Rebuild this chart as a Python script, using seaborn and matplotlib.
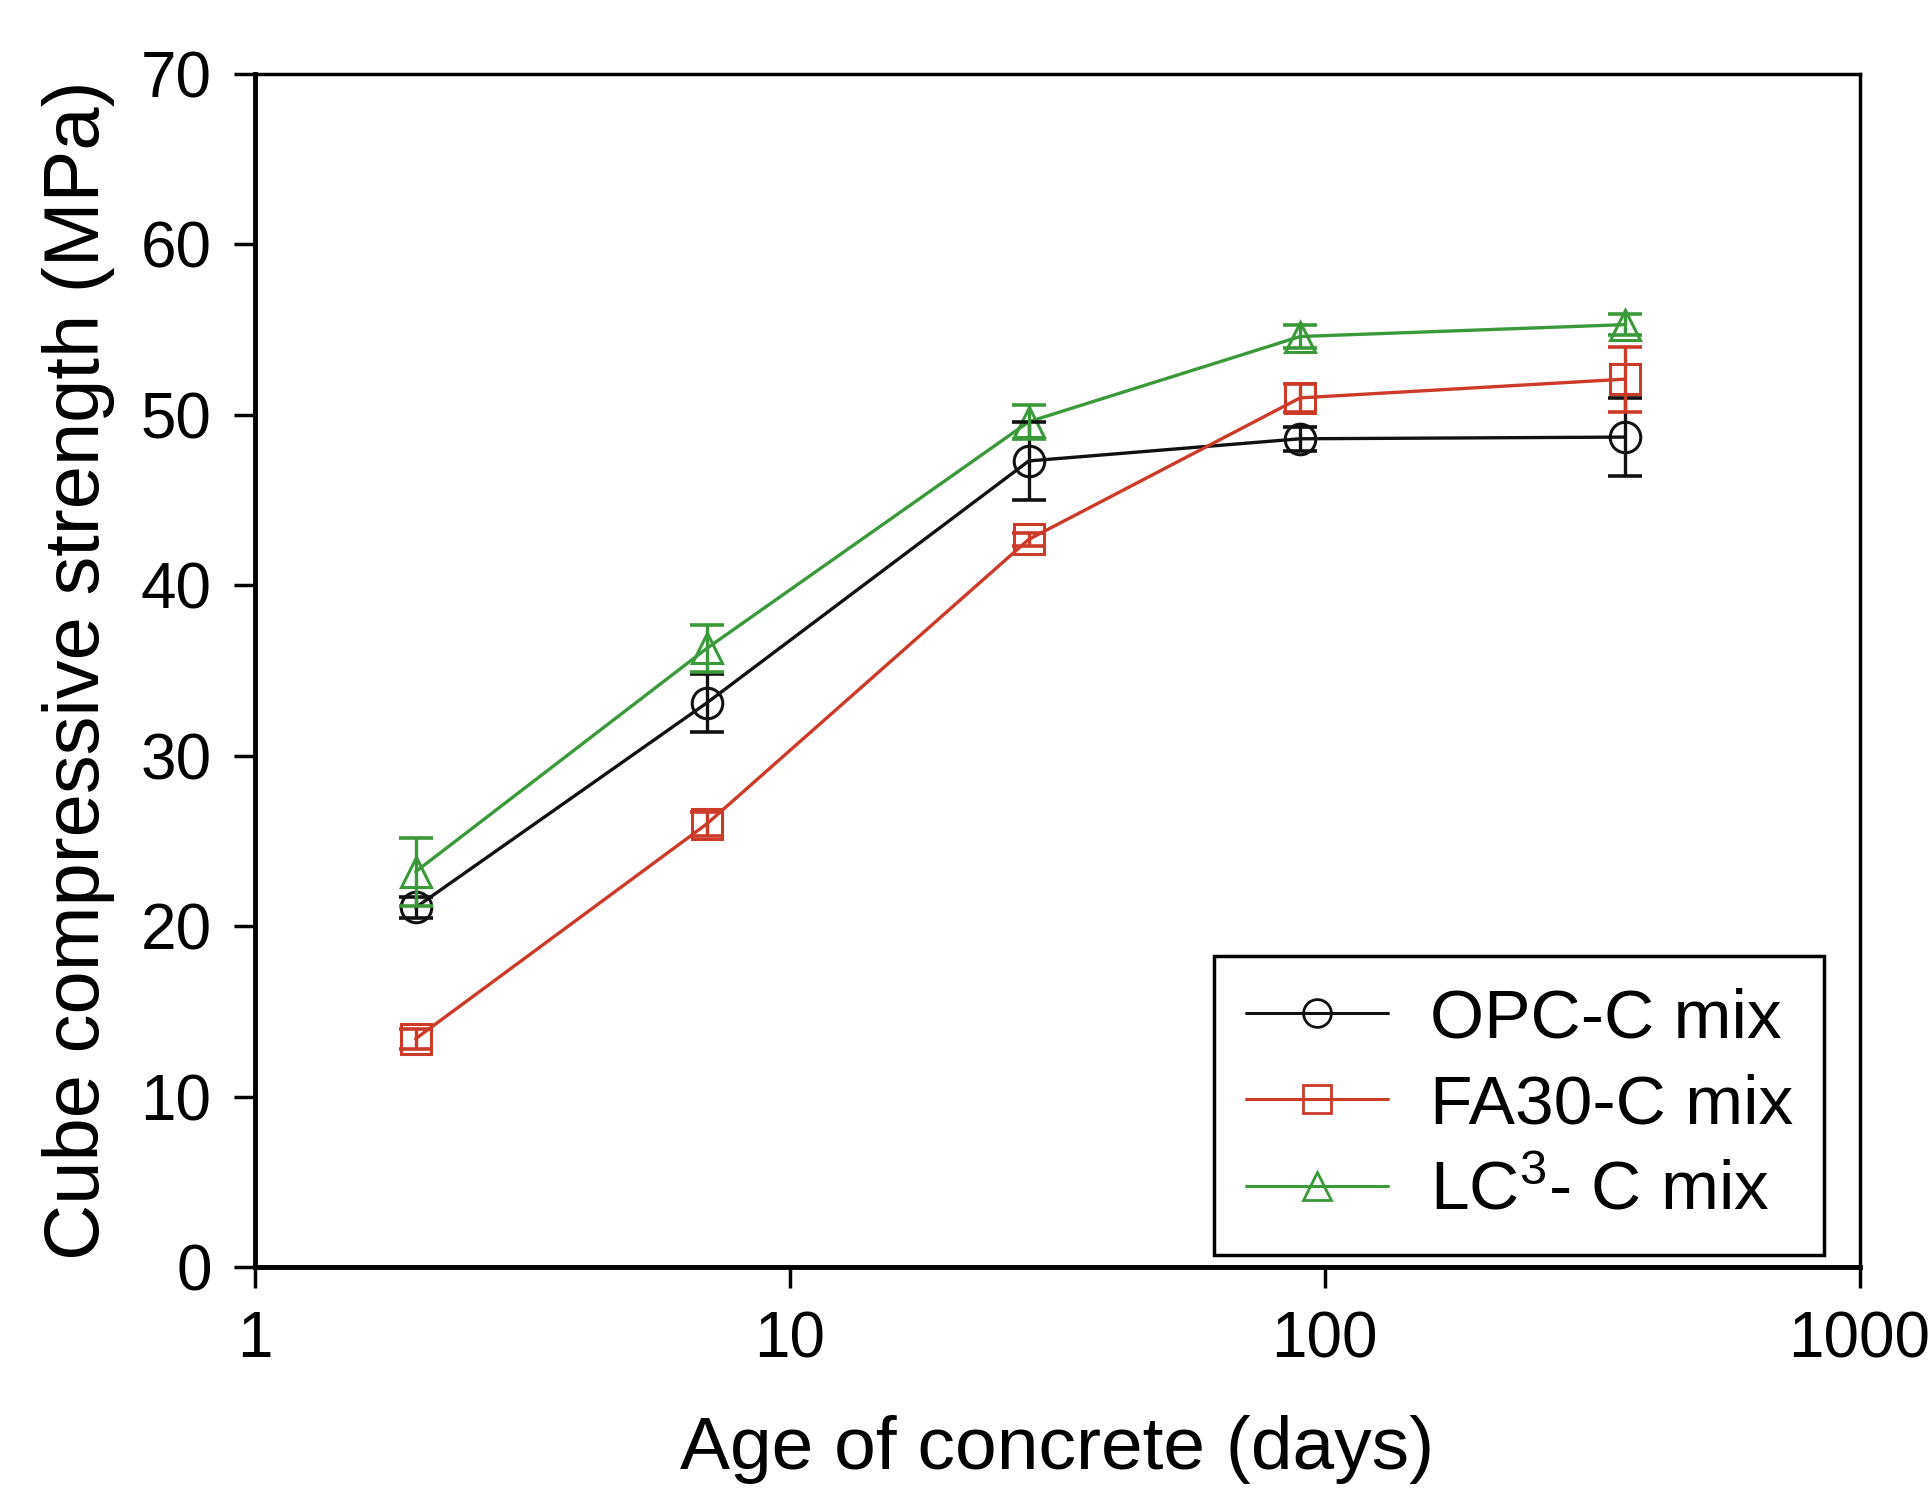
import numpy as np
import pandas as pd
import seaborn as sns
import matplotlib.pyplot as plt
from matplotlib.lines import Line2D

# age of concrete (days)
ages = [2, 7, 28, 90, 365]

# mean cube compressive strength (MPa)
opc = [21.1, 33.1, 47.3, 48.6, 48.7]
fa30 = [13.4, 26.0, 42.7, 51.0, 52.1]
lc3 = [23.2, 36.3, 49.6, 54.6, 55.3]

# error bar half-lengths (MPa)
opc_err = [0.6, 1.7, 2.3, 0.7, 2.3]
fa30_err = [0.6, 0.7, 0.4, 0.8, 1.9]
lc3_err = [2.0, 1.4, 1.0, 0.7, 0.6]

labels = ["OPC-C mix", "FA30-C mix", "LC$^3$- C mix"]
colors = ["#111111", "#cc3a28", "#3a9a3a"]
markers = ["o", "s", "^"]

sns.set_style("ticks")
plt.rcParams["font.family"] = ["Liberation Sans", "DejaVu Sans"]
plt.rcParams["mathtext.default"] = "regular"
plt.rcParams["text.color"] = "black"
plt.rcParams["axes.labelcolor"] = "black"
plt.rcParams["xtick.color"] = "black"
plt.rcParams["ytick.color"] = "black"

df = pd.DataFrame({
    "age": ages * 3,
    "strength": opc + fa30 + lc3,
    "err": opc_err + fa30_err + lc3_err,
    "mix": [labels[0]] * 5 + [labels[1]] * 5 + [labels[2]] * 5,
})

fig = plt.figure(figsize=(19.29, 14.96), dpi=100)
ax = fig.add_axes([0.132, 0.153, 0.832, 0.7975])

sns.lineplot(data=df, x="age", y="strength", hue="mix", style="mix",
             palette=dict(zip(labels, colors)),
             markers=dict(zip(labels, markers)), dashes=False,
             markersize=22, markerfacecolor="none", markeredgewidth=2.2,
             linewidth=2.4, legend=False, ax=ax)

for line, c in zip(ax.lines, colors):
    line.set_markeredgecolor(c)

for lab, c in zip(labels, colors):
    sub = df[df["mix"] == lab]
    ax.errorbar(sub["age"], sub["strength"], yerr=sub["err"], fmt="none",
                ecolor=c, elinewidth=2.4, capsize=12, capthick=2.6, zorder=3)

ax.set_xscale("log")
ax.set_xlim(1, 1000)
ax.set_ylim(0, 70)
ax.set_xticks([1, 10, 100, 1000])
ax.set_xticklabels(["1", "10", "100", "1000"])
ax.xaxis.set_minor_locator(plt.NullLocator())
ax.set_yticks(range(0, 71, 10))

ax.tick_params(axis="both", direction="out", length=15, width=2.5,
               labelsize=46, pad=16, color="black", labelcolor="black")
for side in ["left", "bottom"]:
    ax.spines[side].set_linewidth(3.5)
for side in ["top", "right"]:
    ax.spines[side].set_linewidth(2.5)
for s in ax.spines.values():
    s.set_color("black")

ax.set_xlabel("Age of concrete (days)", fontsize=54, labelpad=32)
ax.set_ylabel("Cube compressive strength (MPa)", fontsize=56, labelpad=18)

handles = [Line2D([0], [0], color=c, marker=m, markersize=20,
                  markerfacecolor="none", markeredgecolor=c,
                  markeredgewidth=2, linewidth=2.2)
           for c, m in zip(colors, markers)]
leg = ax.legend(handles, labels, loc="lower right",
                bbox_to_anchor=(0.978, 0.01), borderaxespad=0,
                fontsize=50, handlelength=2.05, handletextpad=0.6,
                labelspacing=0.32, borderpad=0.45, frameon=True,
                fancybox=False, edgecolor="black", framealpha=1)
leg.get_frame().set_linewidth(2.5)

fig.savefig("out.png", dpi=100)
